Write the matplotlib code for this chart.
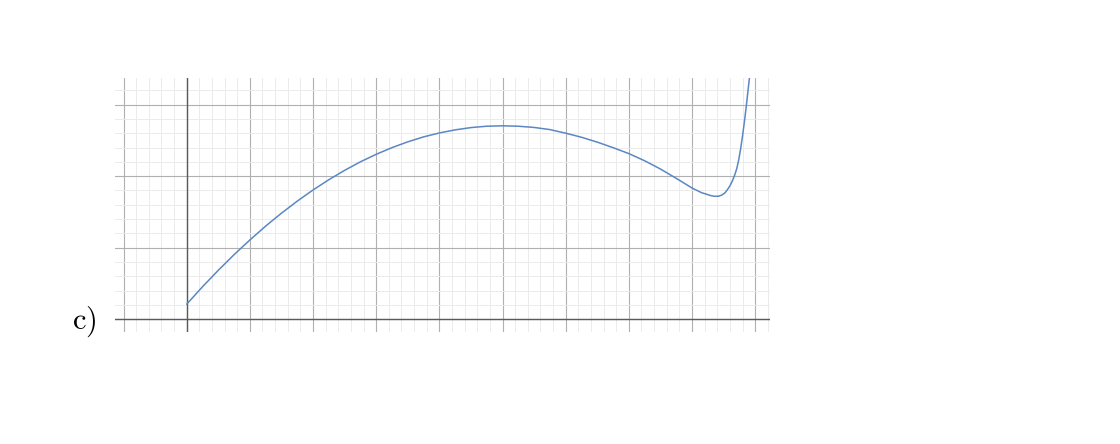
import matplotlib
matplotlib.use("Agg")
import matplotlib.pyplot as plt
from matplotlib.ticker import MultipleLocator

plt.rcParams['mathtext.fontset'] = 'cm'

# values
x_vals = [0.0, 0.25, 0.5, 0.75, 1.0, 1.25, 1.5, 1.75, 2.0, 2.25, 2.5, 2.75,
          3.0, 3.25, 3.5, 3.75, 4.0, 4.25, 4.5, 4.75, 5.0, 5.25, 5.5, 5.75,
          6.0, 6.25, 6.5, 6.75, 7.0, 7.25, 7.5, 7.75, 8.0, 8.15, 8.30, 8.36,
          8.42, 8.47, 8.52, 8.56, 8.60, 8.64, 8.68, 8.71, 8.74, 8.77, 8.80,
          8.83, 8.86, 8.89, 8.92]
y_vals = [0.213, 0.456, 0.686, 0.904, 1.109, 1.303, 1.483, 1.651, 1.807, 1.950, 2.081, 2.200,
          2.305, 2.398, 2.479, 2.548, 2.603, 2.646, 2.678, 2.697, 2.703, 2.697, 2.680, 2.650,
          2.600, 2.543, 2.475, 2.398, 2.315, 2.215, 2.100, 1.970, 1.835, 1.770, 1.728, 1.719,
          1.720, 1.735, 1.765, 1.810, 1.865, 1.935, 2.025, 2.110, 2.230, 2.380, 2.560,
          2.760, 2.980, 3.220, 3.450]

label = r'$\mathrm{c)}$'

fig = plt.figure(figsize=(11.2, 4.44), dpi=100)
ax = fig.add_axes([115/1120, 1 - 332/444, 655/1120, 254/444])

ax.set_xlim(-1.135, 9.235)
ax.set_ylim(-0.175, 3.37)

ax.xaxis.set_major_locator(MultipleLocator(1))
ax.xaxis.set_minor_locator(MultipleLocator(0.2))
ax.yaxis.set_major_locator(MultipleLocator(1))
ax.yaxis.set_minor_locator(MultipleLocator(0.2))
ax.grid(True, which='major', color='#b0b0b0', linewidth=0.8)
ax.grid(True, which='minor', color='#ebebeb', linewidth=0.7)
ax.tick_params(which='both', length=0, labelbottom=False, labelleft=False)
for s in ax.spines.values():
    s.set_visible(False)

ax.axhline(0, color='#5a5a5a', linewidth=1.0)
ax.axvline(0, color='#5a5a5a', linewidth=1.0)

ax.plot(x_vals, y_vals, color='#5b87c2', linewidth=1.1,
        solid_joinstyle='round', solid_capstyle='round')

fig.text(84/1120, 1 - 322/444, label, fontsize=22, ha='center', va='center')

fig.savefig('out.png', dpi=100)
